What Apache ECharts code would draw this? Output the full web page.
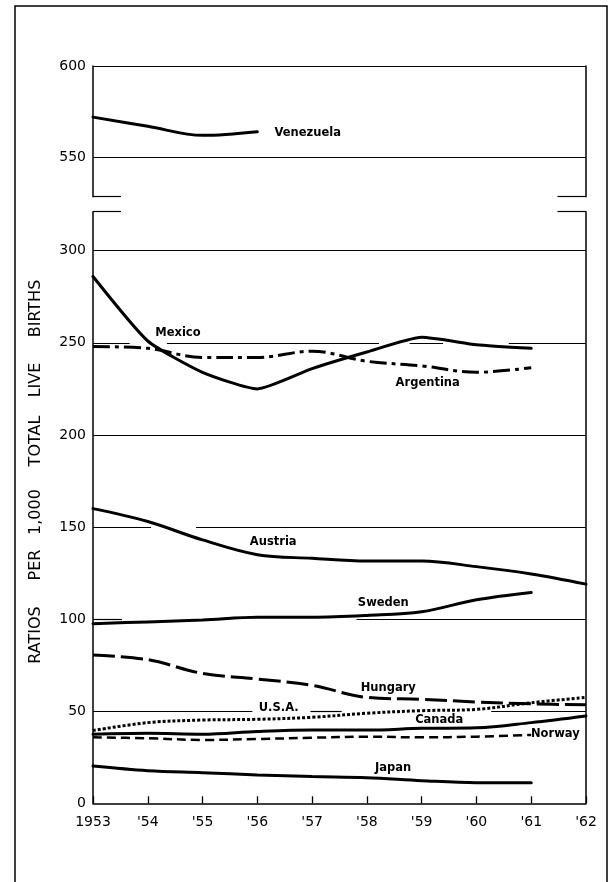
<!DOCTYPE html>
<html>
<head>
<meta charset="utf-8">
<script src="https://cdn.jsdelivr.net/npm/echarts@6/dist/echarts.min.js"></script>
<style>html,body{margin:0;padding:0;background:#fff;}#c{width:610px;height:882px;}</style>
</head>
<body>
<div id="c"></div>
<script>
// ---- data ----
const years = [1953, 1954, 1955, 1956, 1957, 1958, 1959, 1960, 1961, 1962];
const yTicksTop = [550, 600];
const yTicksBottom = [0, 50, 100, 150, 200, 250, 300];
const venezuela = [572, 567, 562, 564];
const mexico = [286, 251, 234, 225, 236, 245, 253, 249, 247];
const argentina = [248, 247, 242, 242, 245.5, 240, 237.5, 234, 236.5];
const austria = [160, 153, 143, 135, 133, 131.5, 131.5, 128.5, 124.5, 119];
const sweden = [97.5, 98.5, 99.5, 101, 101, 102, 104, 110.5, 114.5];
const hungary = [80.5, 78, 70.5, 67.5, 64, 57.5, 56.5, 55, 54, 53.5];
const usa = [39.5, 43.8, 45.2, 45.6, 46.7, 48.9, 50.3, 51, 54.6, 57.5];
const canada = [37.5, 38, 37.5, 39, 39.8, 39.8, 40.7, 41, 43.8, 47.4];
const norway = [35.8, 35.3, 34.4, 34.9, 35.6, 36.2, 35.8, 36.2, 37.1];
const japan = [20.2, 17.7, 16.6, 15.4, 14.5, 13.9, 12.3, 11.2, 11.2];

// ---- layout / styling ----
const FONT = 'DejaVu Sans';
const topMin = 528.4, topMax = 600, botMin = 0, botMax = 321.2;
const pairs = vals => vals.map((v, i) => [years[i], v]);

function labelPoint(name, x, y) {
  return {
    symbol: 'circle', symbolSize: 0, silent: true, animation: false,
    label: { show: true, position: 'inside', formatter: '{b}', color: '#000',
             fontSize: 11.5, fontWeight: 'bold', fontFamily: FONT },
    data: [{ name: name, coord: [x, y] }]
  };
}
function seg(y, x0, x1) { return [{ coord: [x0, y] }, { coord: [x1, y] }]; }
const gridLineStyle = { color: '#000', width: 1.2, type: 'solid' };

function lineSeries(name, vals, grid, style, lbl, extra) {
  return Object.assign({
    type: 'line', name: name, xAxisIndex: grid, yAxisIndex: grid * 2,
    data: pairs(vals), smooth: 0.35, symbol: 'none', animation: false,
    lineStyle: Object.assign({ color: '#000', width: 3, type: 'solid', cap: 'round' }, style),
    markPoint: labelPoint(name, lbl[0], lbl[1]), z: 3
  }, extra || {});
}

const chart = echarts.init(document.getElementById('c'), null, { renderer: 'canvas' });

const yBase = (min, max, pos, ticks) => ({
  type: 'value', min: min, max: max, position: pos,
  axisLine: { show: true, onZero: false, lineStyle: { color: '#000', width: 1.5 } },
  axisTick: { show: false },
  splitLine: { show: false },
  axisLabel: ticks ? { show: true, customValues: ticks, color: '#000', fontSize: 14, fontFamily: FONT, margin: 7 } : { show: false }
});

const option = {
  backgroundColor: '#fff',
  animation: false,
  grid: [
    { left: 93, right: 24, top: 66, height: 130.7 },
    { left: 93, right: 24, top: 211.7, height: 591.6 }
  ],
  xAxis: [
    { type: 'value', gridIndex: 0, min: 1953, max: 1962, interval: 1, show: false },
    { type: 'value', gridIndex: 1, min: 1953, max: 1962, interval: 1,
      axisLine: { show: true, onZero: false, lineStyle: { color: '#000', width: 1.5 } },
      axisTick: { show: true, inside: true, length: 7, lineStyle: { color: '#000', width: 1.3 } },
      splitLine: { show: false },
      axisLabel: { color: '#000', fontSize: 14, fontFamily: FONT, margin: 12,
        formatter: v => v === 1953 ? '1953' : "'" + String(v).slice(2) } }
  ],
  yAxis: [
    Object.assign(yBase(topMin, topMax, 'left', yTicksTop), { gridIndex: 0 }),
    Object.assign(yBase(topMin, topMax, 'right', null), { gridIndex: 0 }),
    Object.assign(yBase(botMin, botMax, 'left', yTicksBottom), { gridIndex: 1 }),
    Object.assign(yBase(botMin, botMax, 'right', null), { gridIndex: 1 })
  ],
  graphic: [
    { type: 'rect', shape: { x: 15, y: 6, width: 592, height: 900 }, style: { fill: 'none', stroke: '#000', lineWidth: 1.5 }, silent: true },
    ...[['BIRTHS', 308.5], ['LIVE', 380], ['TOTAL', 441], ['1,000', 512], ['PER', 565], ['RATIOS', 635]].map(w => ({
      type: 'text', x: 36, y: w[1], rotation: Math.PI / 2, silent: true,
      style: { text: w[0], fill: '#000', font: '16px "' + FONT + '"', textAlign: 'center', textVerticalAlign: 'middle' }
    }))
  ],
  series: [
    lineSeries('Venezuela', venezuela, 0, {}, [1956.92, 563.5], {
      markLine: { symbol: 'none', silent: true, animation: false, label: { show: false },
        lineStyle: gridLineStyle,
        data: [ seg(600, 1953, 1962), seg(550, 1953, 1962),
                seg(topMin, 1953, 1953.51), seg(topMin, 1961.48, 1962) ] }
    }),
    lineSeries('Mexico', mexico, 1, {}, [1954.55, 255.2], { smooth: 0.18,
      markLine: { symbol: 'none', silent: true, animation: false, label: { show: false },
        lineStyle: gridLineStyle,
        data: [
          seg(botMax, 1953, 1953.51), seg(botMax, 1961.48, 1962),
          seg(300, 1953, 1962),
          seg(250, 1953, 1953.67), seg(250, 1954.35, 1958.22), seg(250, 1958.78, 1959.39), seg(250, 1960.59, 1962),
          seg(200, 1953, 1962),
          seg(150, 1953, 1954.06), seg(150, 1954.88, 1962),
          seg(100, 1953, 1953.53), seg(100, 1957.81, 1962),
          seg(50, 1953, 1955.91), seg(50, 1956.97, 1957.54), seg(50, 1960.27, 1962)
        ] }
    }),
    lineSeries('Argentina', argentina, 1, { type: [17, 5, 4, 5], cap: 'butt' }, [1959.11, 228]),
    lineSeries('Austria', austria, 1, {}, [1956.29, 141.9]),
    lineSeries('Sweden', sweden, 1, {}, [1958.30, 108.6]),
    lineSeries('Hungary', hungary, 1, { type: [22, 6], cap: 'butt' }, [1958.39, 62.8]),
    lineSeries('U.S.A.', usa, 1, { type: [3, 2], cap: 'butt' }, [1956.39, 51.6]),
    lineSeries('Canada', canada, 1, {}, [1959.32, 45.2]),
    lineSeries('Norway', norway, 1, { type: [9, 5], width: 2.5, cap: 'butt' }, [1961.44, 37.5]),
    lineSeries('Japan', japan, 1, {}, [1958.48, 19])
  ]
};
chart.setOption(option);
</script>
</body>
</html>
